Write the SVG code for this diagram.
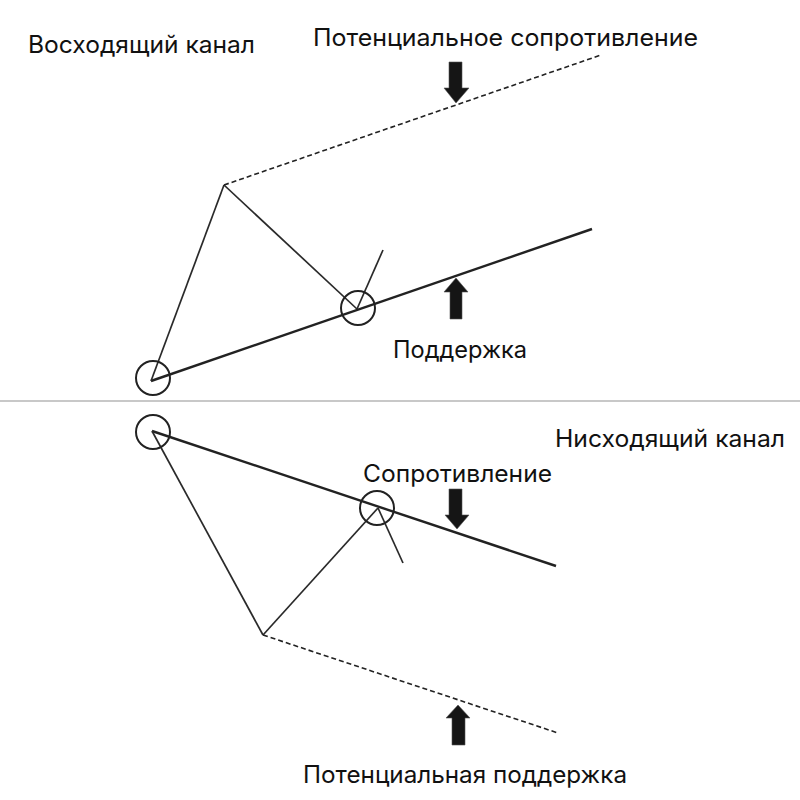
<svg xmlns="http://www.w3.org/2000/svg" width="800" height="800" viewBox="0 0 800 800">
<style>
.bg{fill:#ffffff}
.lbl{font-family:"Inter","Open Sans","Liberation Sans",sans-serif;font-size:24px;fill:#111}
.main{stroke:#222;stroke-width:2.4;fill:none}
.thin{stroke:#2a2a2a;stroke-width:1.7;fill:none}
.dash{stroke:#222;stroke-width:1.6;fill:none;stroke-dasharray:5 3}
.ring{stroke:#222;stroke-width:2;fill:none}
.arr{fill:#151515;stroke:#555;stroke-width:0.6}
.sep{stroke:#c8c8c8;stroke-width:2}
</style>
<rect class="bg" x="0" y="0" width="800" height="800"/>
<line class="sep" x1="0" y1="401" x2="800" y2="401"/>
<g id="connectors">
  <line class="main" x1="151" y1="381" x2="592" y2="229"/>
  <line class="thin" x1="151" y1="381" x2="224" y2="185"/>
  <line class="thin" x1="224" y1="185" x2="357" y2="309"/>
  <line class="thin" x1="357" y1="309" x2="383" y2="250"/>
  <line class="dash" x1="224" y1="185" x2="601" y2="55"/>
  <line class="main" x1="152" y1="431" x2="556" y2="566"/>
  <line class="thin" x1="152" y1="431" x2="263" y2="635"/>
  <line class="thin" x1="263" y1="635" x2="378" y2="508"/>
  <line class="thin" x1="378" y1="508" x2="403" y2="563"/>
  <line class="dash" x1="263" y1="635" x2="558" y2="733"/>
</g>
<g id="circle-up-1"><circle class="ring" cx="153" cy="378" r="17"/></g>
<g id="circle-up-2"><circle class="ring" cx="358" cy="308" r="17"/></g>
<g id="circle-down-1"><circle class="ring" cx="153" cy="432" r="17"/></g>
<g id="circle-down-2"><circle class="ring" cx="377" cy="508" r="17"/></g>
<g id="arrow-pot-res"><polygon class="arr" points="449,62 462,62 462,88 469,88 456,103 444,88 449,88"/></g>
<g id="arrow-support"><polygon class="arr" points="456,278 468,292 462,292 462,319 450,319 450,292 444,292"/></g>
<g id="arrow-res"><polygon class="arr" points="449,489 462,489 462,515 469,515 457,529 445,515 449,515"/></g>
<g id="arrow-pot-sup"><polygon class="arr" points="458,705 470,718 465,718 465,745 452,745 452,718 446,718"/></g>
<g id="label-up"><text class="lbl" x="28" y="53" textLength="227" lengthAdjust="spacingAndGlyphs">Восходящий канал</text></g>
<g id="label-pot-res"><text class="lbl" x="313" y="46" textLength="385" lengthAdjust="spacingAndGlyphs">Потенциальное сопротивление</text></g>
<g id="label-support"><text class="lbl" x="393" y="358" textLength="134" lengthAdjust="spacingAndGlyphs">Поддержка</text></g>
<g id="label-down"><text class="lbl" x="555" y="447" textLength="230" lengthAdjust="spacingAndGlyphs">Нисходящий канал</text></g>
<g id="label-res"><text class="lbl" x="363" y="482" textLength="189" lengthAdjust="spacingAndGlyphs">Сопротивление</text></g>
<g id="label-pot-sup"><text class="lbl" x="303" y="783" textLength="324" lengthAdjust="spacingAndGlyphs">Потенциальная поддержка</text></g>
</svg>
